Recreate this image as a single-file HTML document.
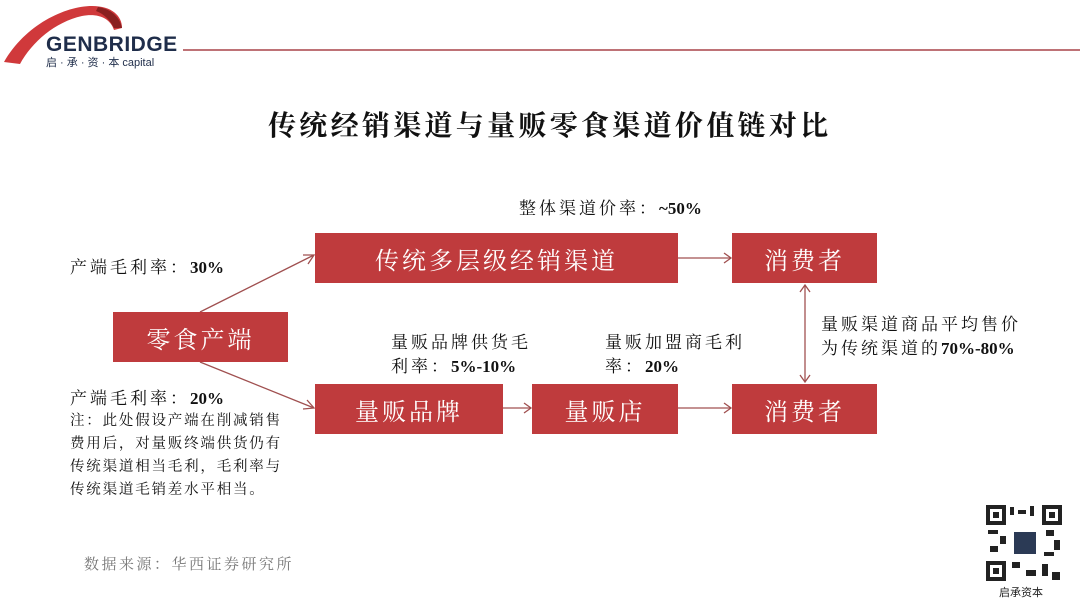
<!DOCTYPE html>
<html><head><meta charset="utf-8"><style>
body{margin:0;width:1080px;height:603px;background:#fff;position:relative;overflow:hidden;font-family:"Liberation Serif","Noto Serif CJK SC",serif;color:#111}
.a{position:absolute;white-space:nowrap}
.box{position:absolute;background:#bf3b3d;color:#fff;display:flex;align-items:center;justify-content:center;font-size:24px;letter-spacing:3px}
.t{font-size:17px;line-height:24px;letter-spacing:3px}
b{font-weight:bold;letter-spacing:0}
</style></head><body>
<svg class="a" style="left:0;top:0" width="1080" height="603">
<path d="M4,62 C25,25 65,6 92,6 C112,6 122,16 122,28 L114,30 C110,18 98,13 82,16 C55,22 32,42 20,64 Z" fill="#d0393b"/>
<path d="M98,7 C112,9 120,18 122,28 L114,28 C110,20 104,14 96,11Z" fill="#8a2020"/>
<line x1="183" y1="50" x2="1080" y2="50" stroke="#a84448" stroke-width="1.5"/>
<g stroke="#a05050" stroke-width="1.3" fill="none">
<line x1="200" y1="312" x2="314" y2="255"/><polyline points="303,255 314,255 308,264"/>
<line x1="200" y1="362" x2="314" y2="408"/><polyline points="307,400 314,408 303,409"/>
<line x1="678" y1="258" x2="731" y2="258"/><polyline points="724,253 731,258 724,263"/>
<line x1="503" y1="408" x2="531" y2="408"/><polyline points="524,403 531,408 524,413"/>
<line x1="678" y1="408" x2="731" y2="408"/><polyline points="724,403 731,408 724,413"/>
<line x1="805" y1="285" x2="805" y2="382"/><polyline points="800,292 805,285 810,292"/><polyline points="800,375 805,382 810,375"/>
</g>
<g fill="#222">
<rect x="986" y="505" width="76" height="76" fill="#fff"/>
<rect x="986" y="505" width="20" height="20"/><rect x="990" y="509" width="12" height="12" fill="#fff"/><rect x="993" y="512" width="6" height="6"/>
<rect x="1042" y="505" width="20" height="20"/><rect x="1046" y="509" width="12" height="12" fill="#fff"/><rect x="1049" y="512" width="6" height="6"/>
<rect x="986" y="561" width="20" height="20"/><rect x="990" y="565" width="12" height="12" fill="#fff"/><rect x="993" y="568" width="6" height="6"/>
<rect x="1010" y="507" width="4" height="8"/><rect x="1018" y="510" width="8" height="4"/><rect x="1030" y="506" width="4" height="10"/>
<rect x="988" y="530" width="10" height="4"/><rect x="1000" y="536" width="6" height="8"/><rect x="990" y="546" width="8" height="6"/>
<rect x="1046" y="530" width="8" height="6"/><rect x="1054" y="540" width="6" height="10"/><rect x="1044" y="552" width="10" height="4"/>
<rect x="1012" y="562" width="8" height="6"/><rect x="1026" y="570" width="10" height="6"/><rect x="1042" y="564" width="6" height="12"/><rect x="1052" y="572" width="8" height="8"/>
<rect x="1014" y="532" width="22" height="22" fill="#2b3a55"/>
</g>
</svg>
<div class="a" style="left:46px;top:33px;font-family:'Liberation Sans',sans-serif;font-weight:bold;font-size:21px;color:#1f2d4a;letter-spacing:0.5px">GENBRIDGE</div>
<div class="a" style="left:46px;top:54px;font-family:'Liberation Sans','Noto Sans CJK SC',sans-serif;font-size:11px;color:#1f2d4a">启 · 承 · 资 · 本 capital</div>
<div class="a" style="left:268px;top:104px;font-size:28px;font-weight:bold;letter-spacing:3.3px">传统经销渠道与量贩零食渠道价值链对比</div>
<div class="a t" style="left:519px;top:197px">整体渠道价率：<b>~50%</b></div>
<div class="a t" style="left:70px;top:256px">产端毛利率：<b>30%</b></div>
<div class="a t" style="left:70px;top:387px">产端毛利率：<b>20%</b></div>
<div class="a" style="left:70px;top:410px;font-size:14.5px;line-height:23px;letter-spacing:1.8px">注：此处假设产端在削减销售<br>费用后，对量贩终端供货仍有<br>传统渠道相当毛利，毛利率与<br>传统渠道毛销差水平相当。</div>
<div class="a t" style="left:391px;top:331px">量贩品牌供货毛<br>利率：<b>5%-10%</b></div>
<div class="a t" style="left:605px;top:331px">量贩加盟商毛利<br>率：<b>20%</b></div>
<div class="a t" style="left:821px;top:313px">量贩渠道商品平均售价<br>为传统渠道的<b>70%-80%</b></div>
<div class="box" style="left:315px;top:233px;width:363px;height:50px">传统多层级经销渠道</div>
<div class="box" style="left:732px;top:233px;width:145px;height:50px">消费者</div>
<div class="box" style="left:113px;top:312px;width:175px;height:50px">零食产端</div>
<div class="box" style="left:315px;top:384px;width:188px;height:50px">量贩品牌</div>
<div class="box" style="left:532px;top:384px;width:146px;height:50px">量贩店</div>
<div class="box" style="left:732px;top:384px;width:145px;height:50px">消费者</div>
<div class="a" style="left:84px;top:553px;font-size:15px;color:#777;letter-spacing:2.5px">数据来源：华西证券研究所</div>
<div class="a" style="left:999px;top:584px;font-size:11px;font-family:'Liberation Sans','Noto Sans CJK SC',sans-serif;color:#222">启承资本</div>
</body></html>
